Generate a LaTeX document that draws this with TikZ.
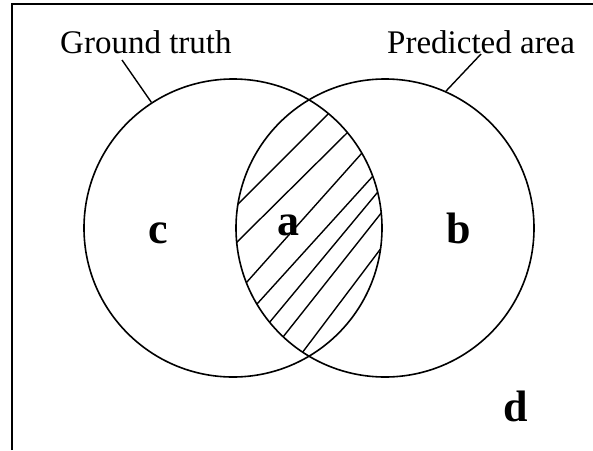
\documentclass[tikz,border=0pt]{standalone}
\usepackage{fontspec}
\setmainfont{Liberation Serif}
\usepackage{tikz}
\usetikzlibrary{positioning}
\tikzset{
  venn-set/.style={draw=black, circle, line width=1.6pt, minimum size=298pt, inner sep=0pt},
  venn-caption/.style={font=\fontsize{33}{38}\selectfont, inner sep=0pt, anchor=base west},
  venn-tag/.style={font=\fontsize{44}{50}\selectfont\bfseries, inner sep=0pt, anchor=base west},
  venn-leader/.style={line width=1.4pt},
  venn-hatch/.style={line width=1.4pt, shorten <=-6pt, shorten >=-6pt}
}

\begin{document}
\begin{tikzpicture}[x=1pt, y=-1pt]
  \useasboundingbox (0,0) rectangle (593,450);

  % frame (top and left only)
  \draw[line width=2pt] (11.5,450) -- (11.5,4) -- (593,4);

  % the two sets
  \node[venn-set] (truth) at (233,228) {};
  \node[venn-set] (pred) at (385,228) {};

  % hatching of the overlap
  \begin{scope}
    \clip (233,228) circle [radius=149];
    \clip (385,228) circle [radius=149];
    \foreach \ax/\ay/\bx/\by in {235/207/328/114, 235/244/347/133, 246/283/362/153,
        257/304/373/176, 269/323/377/193, 283/337/382/212, 302/353/382/247}
      \draw[venn-hatch] (\ax,\ay) -- (\bx,\by);
  \end{scope}

  % captions and leaders
  \node[venn-caption] (truth-name) at (60,53) {Ground truth};
  \node[venn-caption] (pred-name) at (387,53) {Predicted area};
  \coordinate (truth-foot) at (122,60);
  \coordinate (pred-foot) at (481,54);
  \draw[venn-leader] (truth-foot) -- (truth.123);
  \draw[venn-leader] (pred-foot) -- (pred.66);

  % region tags
  \node[venn-tag] (tag-a) at (277,235) {a};
  \node[venn-tag] (tag-b) at (446,243) {b};
  \node[venn-tag] (tag-c) at (148,243) {c};
  \node[venn-tag] (tag-d) at (503,421) {d};
\end{tikzpicture}
\end{document}
